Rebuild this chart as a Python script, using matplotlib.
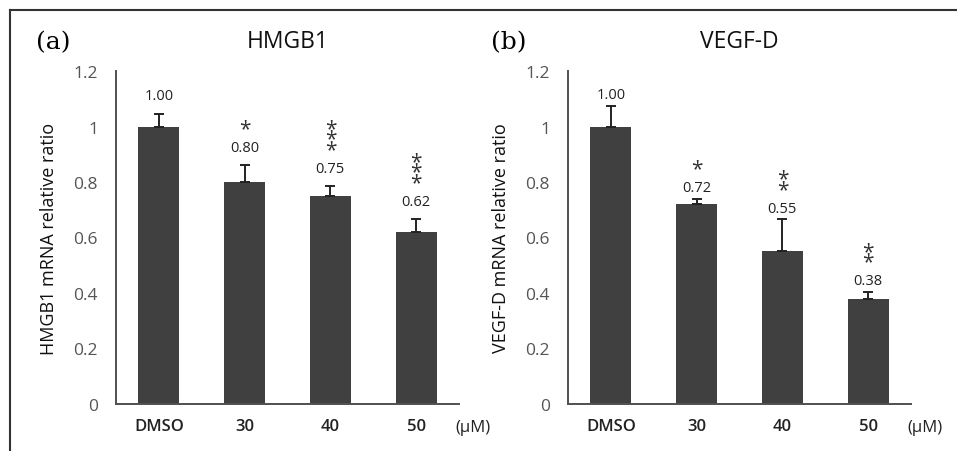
import numpy as np
import matplotlib.pyplot as plt
from matplotlib.lines import Line2D

plt.rcParams['font.family'] = ['Open Sans', 'DejaVu Sans']

categories = ["DMSO", "30", "40", "50"]

hmgb1_values = [1.00, 0.80, 0.75, 0.62]
hmgb1_errors = [0.045, 0.06, 0.035, 0.045]
hmgb1_stars = ["", "*", "***", "***"]

vegfd_values = [1.00, 0.72, 0.55, 0.38]
vegfd_errors = [0.075, 0.02, 0.115, 0.025]
vegfd_stars = ["", "*", "**", "**"]

yticks = [0, 0.2, 0.4, 0.6, 0.8, 1.0, 1.2]
ytick_labels = ["0", "0.2", "0.4", "0.6", "0.8", "1", "1.2"]

bar_color = "#404040"
axis_color = "#505050"


def draw_panel(ax, values, errors, stars, title, ylabel, tag, fig, tag_x, lab_off):
    x = np.arange(len(categories))
    ax.bar(x, values, width=0.48, color=bar_color, zorder=2)
    ax.errorbar(x, values, yerr=[np.zeros(len(errors)), errors], fmt="none",
                ecolor="#222222", elinewidth=1.4, capsize=3.5, capthick=1.4, zorder=3)
    ax.set_xlim(-0.5, 3.5)
    ax.set_ylim(0, 1.2)
    ax.set_yticks(yticks)
    ax.set_yticklabels(ytick_labels)
    ax.set_xticks(x)
    ax.set_xticklabels(categories, fontsize=12, fontweight="semibold", color="#222222")
    ax.tick_params(axis="both", length=0)
    ax.tick_params(axis="y", labelsize=12.5, labelcolor="#555555", pad=13)
    ax.tick_params(axis="x", pad=10)
    for s in ["top", "right"]:
        ax.spines[s].set_visible(False)
    for s in ["left", "bottom"]:
        ax.spines[s].set_color(axis_color)
        ax.spines[s].set_linewidth(1.4)
    ax.set_ylabel(ylabel, fontsize=13, color="#111111", labelpad=11)
    ax.set_title(title, fontsize=16.5, pad=17, color="#111111")
    ax.text(1.04, -0.07, "(\u03bcM)", transform=ax.transAxes, fontsize=12,
            color="#222222", va="center", ha="center")
    fig.text(tag_x, 0.905, tag, fontsize=18, family="DejaVu Serif", va="center")

    for i, (v, e, st) in enumerate(zip(values, errors, stars)):
        lab_y = v + e + lab_off
        ax.text(i, lab_y, "%.2f" % v, ha="center", va="center", fontsize=10.5,
                color="#222222")
        if st:
            ax.text(i, lab_y + 0.03, "\n".join(st), ha="center", va="bottom",
                    fontsize=15, color="#333333", linespacing=0.34)


fig = plt.figure(figsize=(9.57, 4.52), dpi=100)
ax1 = fig.add_axes([0.1212, 0.104, 0.3584, 0.7367])
ax2 = fig.add_axes([0.5935, 0.104, 0.3584, 0.7367])

draw_panel(ax1, hmgb1_values, hmgb1_errors, hmgb1_stars, "HMGB1",
           "HMGB1 mRNA relative ratio", "(a)", fig, 0.038, 0.065)
draw_panel(ax2, vegfd_values, vegfd_errors, vegfd_stars, "VEGF-D",
           "VEGF-D mRNA relative ratio", "(b)", fig, 0.513, 0.04)

# frame lines at top and left of the figure
fig.add_artist(Line2D([10 / 957, 1], [1 - 11 / 452, 1 - 11 / 452],
                      transform=fig.transFigure, color="#333333", lw=1.5))
fig.add_artist(Line2D([10 / 957, 10 / 957], [0, 1 - 11 / 452],
                      transform=fig.transFigure, color="#333333", lw=1.5))

fig.savefig("out.png", dpi=100)
